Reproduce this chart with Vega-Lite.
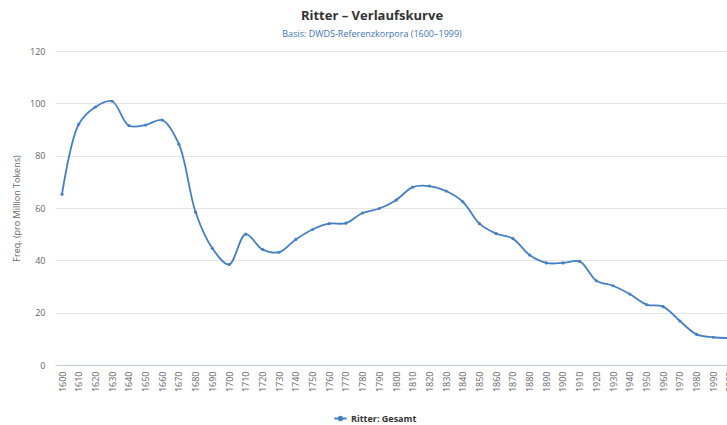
{
  "$schema": "https://vega.github.io/schema/vega-lite/v6.json",
  "autosize": "none",
  "padding": {"left": 55, "top": 51, "right": 0, "bottom": 60},
  "width": 682,
  "height": 314,
  "background": "white",
  "title": {
    "text": "Ritter – Verlaufskurve",
    "subtitle": "Basis: DWDS-Referenzkorpora (1600–1999)",
    "anchor": "middle",
    "dx": -24,
    "font": "Open Sans",
    "fontSize": 13,
    "fontWeight": "bold",
    "color": "#333333",
    "subtitleFont": "Open Sans",
    "subtitleFontSize": 9,
    "subtitleColor": "#3e75b8",
    "subtitlePadding": 7,
    "offset": 8
  },
  "config": {
    "view": {"stroke": null},
    "font": "Open Sans"
  },
  "data": {
    "values": [
      {"year": 1600, "freq": 65.3, "series": "Ritter: Gesamt"},
      {"year": 1610, "freq": 92.0, "series": "Ritter: Gesamt"},
      {"year": 1620, "freq": 98.6, "series": "Ritter: Gesamt"},
      {"year": 1630, "freq": 100.8, "series": "Ritter: Gesamt"},
      {"year": 1640, "freq": 91.5, "series": "Ritter: Gesamt"},
      {"year": 1650, "freq": 91.7, "series": "Ritter: Gesamt"},
      {"year": 1660, "freq": 93.6, "series": "Ritter: Gesamt"},
      {"year": 1670, "freq": 84.4, "series": "Ritter: Gesamt"},
      {"year": 1680, "freq": 58.4, "series": "Ritter: Gesamt"},
      {"year": 1690, "freq": 44.6, "series": "Ritter: Gesamt"},
      {"year": 1700, "freq": 38.4, "series": "Ritter: Gesamt"},
      {"year": 1710, "freq": 50.0, "series": "Ritter: Gesamt"},
      {"year": 1720, "freq": 44.2, "series": "Ritter: Gesamt"},
      {"year": 1730, "freq": 43.1, "series": "Ritter: Gesamt"},
      {"year": 1740, "freq": 48.0, "series": "Ritter: Gesamt"},
      {"year": 1750, "freq": 51.8, "series": "Ritter: Gesamt"},
      {"year": 1760, "freq": 54.0, "series": "Ritter: Gesamt"},
      {"year": 1770, "freq": 54.2, "series": "Ritter: Gesamt"},
      {"year": 1780, "freq": 58.1, "series": "Ritter: Gesamt"},
      {"year": 1790, "freq": 59.8, "series": "Ritter: Gesamt"},
      {"year": 1800, "freq": 63.0, "series": "Ritter: Gesamt"},
      {"year": 1810, "freq": 68.0, "series": "Ritter: Gesamt"},
      {"year": 1820, "freq": 68.4, "series": "Ritter: Gesamt"},
      {"year": 1830, "freq": 66.5, "series": "Ritter: Gesamt"},
      {"year": 1840, "freq": 62.4, "series": "Ritter: Gesamt"},
      {"year": 1850, "freq": 54.0, "series": "Ritter: Gesamt"},
      {"year": 1860, "freq": 50.2, "series": "Ritter: Gesamt"},
      {"year": 1870, "freq": 48.3, "series": "Ritter: Gesamt"},
      {"year": 1880, "freq": 42.0, "series": "Ritter: Gesamt"},
      {"year": 1890, "freq": 39.0, "series": "Ritter: Gesamt"},
      {"year": 1900, "freq": 39.0, "series": "Ritter: Gesamt"},
      {"year": 1910, "freq": 39.6, "series": "Ritter: Gesamt"},
      {"year": 1920, "freq": 32.2, "series": "Ritter: Gesamt"},
      {"year": 1930, "freq": 30.3, "series": "Ritter: Gesamt"},
      {"year": 1940, "freq": 27.1, "series": "Ritter: Gesamt"},
      {"year": 1950, "freq": 23.1, "series": "Ritter: Gesamt"},
      {"year": 1960, "freq": 22.3, "series": "Ritter: Gesamt"},
      {"year": 1970, "freq": 16.8, "series": "Ritter: Gesamt"},
      {"year": 1980, "freq": 11.7, "series": "Ritter: Gesamt"},
      {"year": 1990, "freq": 10.6, "series": "Ritter: Gesamt"},
      {"year": 2000, "freq": 10.3, "series": "Ritter: Gesamt"}
    ]
  },
  "encoding": {
    "x": {
      "field": "year",
      "type": "quantitative",
      "scale": {"domain": [1595.8, 2004.2], "nice": false, "zero": false},
      "axis": {
        "title": null,
        "values": [1600,1610,1620,1630,1640,1650,1660,1670,1680,1690,1700,1710,1720,1730,1740,1750,1760,1770,1780,1790,1800,1810,1820,1830,1840,1850,1860,1870,1880,1890,1900,1910,1920,1930,1940,1950,1960,1970,1980,1990,2000],
        "format": "d",
        "labelAngle": -90,
        "labelFontSize": 9,
        "labelColor": "#666666",
        "labelPadding": 6,
        "labelFlush": false,
        "labelOverlap": false,
        "grid": false,
        "ticks": false,
        "domainColor": "#C0D0E0",
        "domainWidth": 1
      }
    },
    "y": {
      "field": "freq",
      "type": "quantitative",
      "scale": {"domain": [0, 120], "nice": false},
      "axis": {
        "title": "Freq. (pro Million Tokens)",
        "titleFontSize": 9,
        "titleFontWeight": "normal",
        "titleColor": "#666666",
        "titlePadding": 8,
        "values": [0, 20, 40, 60, 80, 100, 120],
        "labelFontSize": 9,
        "labelColor": "#666666",
        "labelPadding": 10,
        "ticks": false,
        "domain": false,
        "gridColor": "#e6e6e6",
        "gridWidth": 1
      }
    },
    "color": {
      "field": "series",
      "type": "nominal",
      "scale": {"range": ["#4580c4"]},
      "legend": {
        "title": null,
        "orient": "none",
        "legendX": 278,
        "legendY": 360,
        "symbolType": "M-1,0H1M-0.3,0A0.3,0.3 0 1,0 0.3,0A0.3,0.3 0 1,0 -0.3,0",
        "symbolSize": 150,
        "symbolStrokeWidth": 2,
        "symbolFillColor": "#4580c4",
        "labelFontSize": 9,
        "labelFontWeight": "bold",
        "labelColor": "#333333",
        "labelOffset": 3
      }
    }
  },
  "layer": [
    {
      "mark": {"type": "line", "interpolate": "catmull-rom", "strokeWidth": 1.8}
    },
    {
      "mark": {"type": "point", "filled": true, "size": 10, "opacity": 1}
    }
  ]
}
